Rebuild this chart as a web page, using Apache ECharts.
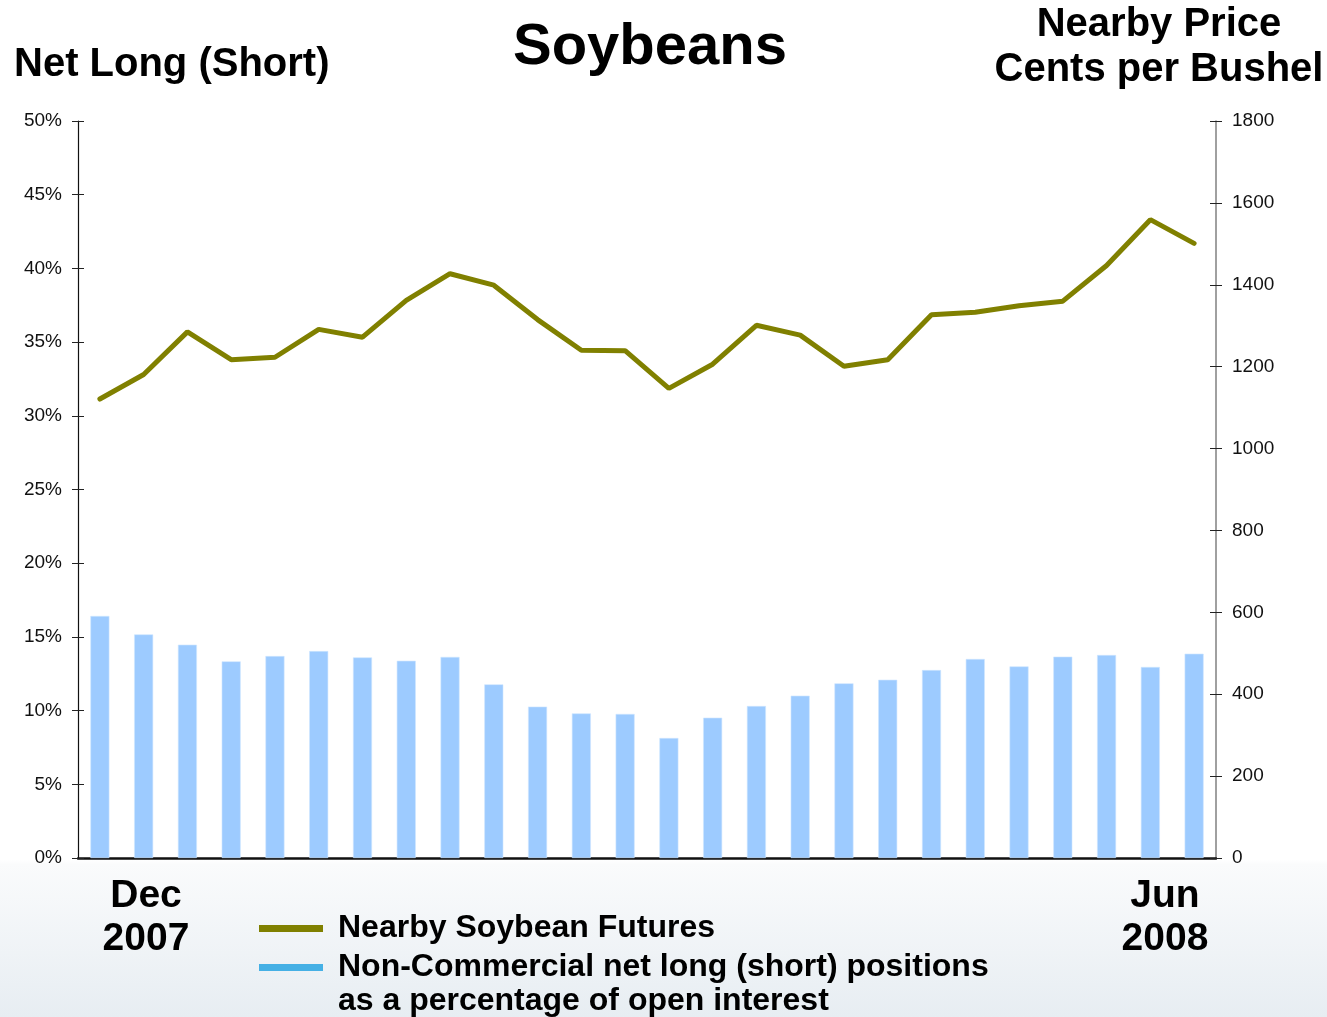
<!DOCTYPE html>
<html>
<head>
<meta charset="utf-8">
<title>Soybeans</title>
<script src="https://cdn.jsdelivr.net/npm/echarts@6/dist/echarts.min.js"></script>
<style>
  html, body { margin: 0; padding: 0; background: #fff; }
  #chart { width: 1327px; height: 1017px; }
</style>
</head>
<body>
<div id="chart"></div>
<script>
// weekly report dates, Dec 2007 -> Jun 2008
const weeks = [
  '2007-12-11', '2007-12-18', '2007-12-24', '2007-12-31', '2008-01-08', '2008-01-15',
  '2008-01-22', '2008-01-29', '2008-02-05', '2008-02-12', '2008-02-19', '2008-02-26',
  '2008-03-04', '2008-03-11', '2008-03-18', '2008-03-25', '2008-04-01', '2008-04-08',
  '2008-04-15', '2008-04-22', '2008-04-29', '2008-05-06', '2008-05-13', '2008-05-20',
  '2008-05-27', '2008-06-03'
];

// non-commercial net long as % of open interest (left axis)
const netLongPct = [
  16.42, 15.17, 14.47, 13.34, 13.70, 14.04, 13.61, 13.38, 13.64, 11.78, 10.27, 9.81, 9.77,
  8.14, 9.52, 10.31, 11.01, 11.85, 12.09, 12.75, 13.50, 13.00, 13.66, 13.77, 12.96, 13.86
];

// nearby futures price, cents per bushel (right axis)
const nearbyPrice = [
  1121, 1181, 1285, 1217, 1223, 1291, 1272, 1362, 1427, 1399, 1315, 1240, 1239,
  1147, 1206, 1301, 1277, 1201, 1217, 1327, 1333, 1349, 1360, 1447, 1559, 1501
];

const lineName = 'Nearby Soybean Futures';
const barName = 'Non-Commercial net long (short) positions';
const barNameRest = 'as a percentage of open interest';

const FONT = '"Liberation Sans", Arial, Helvetica, sans-serif';
const chart = echarts.init(document.getElementById('chart'));

function tickAxis(pos, max, interval) {
  // extra copy of an axis only to draw the inner half of the cross ticks
  return {
    type: 'value', position: pos, min: 0, max: max, interval: interval,
    axisLine: { show: false },
    axisTick: { show: true, inside: true, length: 6, lineStyle: { color: '#222', width: 1 } },
    axisLabel: { show: false },
    splitLine: { show: false }
  };
}

const option = {
  backgroundColor: {
    type: 'linear', x: 0, y: 0, x2: 0, y2: 1,
    colorStops: [
      { offset: 0, color: '#ffffff' },
      { offset: 0.845, color: '#ffffff' },
      { offset: 0.85, color: '#fafbfc' },
      { offset: 1, color: '#e7edf2' }
    ]
  },
  animation: false,
  textStyle: { fontFamily: FONT },
  grid: { left: 78, right: 111, top: 121, bottom: 159 },
  legend: {
    left: 259, top: 909, orient: 'vertical', itemGap: 0, padding: 0,
    itemWidth: 64, itemHeight: 7, icon: 'rect',
    textStyle: { fontFamily: FONT, fontSize: 32, fontWeight: 'bold', color: '#000', lineHeight: 39, padding: [0, 0, 0, 10] },
    data: [
      { name: lineName, itemStyle: { color: '#808000', borderWidth: 0 } },
      { name: barName, itemStyle: { color: '#45b0e5', borderWidth: 0 } }
    ]
  },
  xAxis: {
    type: 'category', data: weeks, boundaryGap: true,
    axisLine: { show: true, lineStyle: { color: '#111', width: 2.5 } },
    axisTick: { show: false },
    axisLabel: { show: false }
  },
  yAxis: [
    {
      type: 'value', position: 'left', min: 0, max: 50, interval: 5,
      axisLine: { show: true, lineStyle: { color: '#111', width: 1.2 } },
      axisTick: { show: true, length: 6, lineStyle: { color: '#222', width: 1 } },
      axisLabel: { formatter: '{value}%', fontSize: 19, color: '#111', margin: 16, fontFamily: FONT },
      splitLine: { show: false }
    },
    {
      type: 'value', position: 'right', min: 0, max: 1800, interval: 200,
      axisLine: { show: true, lineStyle: { color: '#808080', width: 1.5 } },
      axisTick: { show: true, length: 6, lineStyle: { color: '#222', width: 1 } },
      axisLabel: { formatter: v => String(v), fontSize: 19, color: '#111', margin: 16, fontFamily: FONT },
      splitLine: { show: false }
    },
    tickAxis('left', 50, 5),
    tickAxis('right', 1800, 200)
  ],
  series: [
    {
      name: barName, type: 'bar', data: netLongPct, yAxisIndex: 0,
      barWidth: 19,
      itemStyle: { color: '#9dcbff', borderColor: '#cfe5ff', borderWidth: 0.6 },
      z: 2
    },
    {
      name: lineName, type: 'line', data: nearbyPrice, yAxisIndex: 1,
      symbol: 'none',
      lineStyle: { color: '#808000', width: 5, cap: 'round' },
      itemStyle: { color: '#808000' },
      z: 3
    }
  ],
  graphic: [
    { type: 'text', left: 14, top: 45, style: { text: 'Net Long (Short)', font: 'bold 40px ' + FONT, fill: '#000' } },
    { type: 'text', left: 513, top: 19, style: { text: 'Soybeans', font: 'bold 58px ' + FONT, fill: '#000' } },
    {
      type: 'text', x: 1159, y: 2,
      style: { text: 'Nearby Price\nCents per Bushel', font: 'bold 40px ' + FONT, lineHeight: 45, align: 'center', fill: '#000' }
    },
    {
      type: 'text', x: 146, y: 875,
      style: { text: 'Dec\n2007', font: 'bold 39px ' + FONT, lineHeight: 43, align: 'center', fill: '#000' }
    },
    {
      type: 'text', x: 1165, y: 875,
      style: { text: 'Jun\n2008', font: 'bold 39px ' + FONT, lineHeight: 43, align: 'center', fill: '#000' }
    },
    {
      type: 'text', left: 338, top: 985,
      style: { text: barNameRest, font: 'bold 32px ' + FONT, fill: '#000' }
    }
  ]
};

chart.setOption(option);
</script>
</body>
</html>
